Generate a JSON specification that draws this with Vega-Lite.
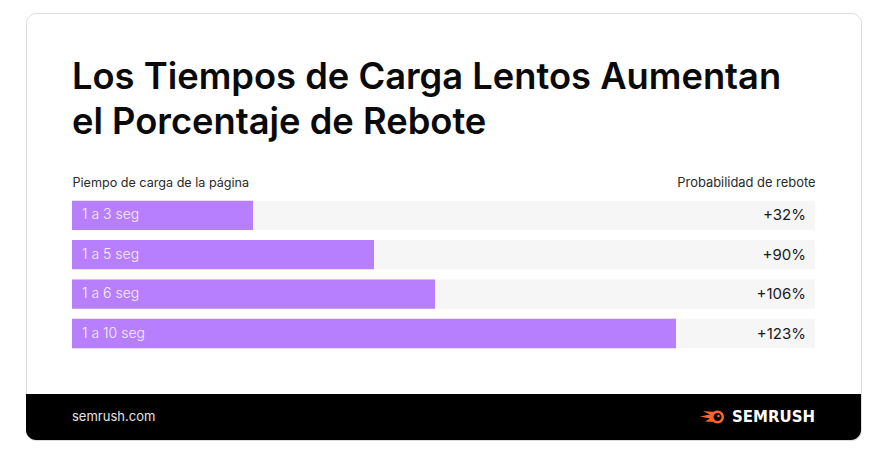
{
  "$schema": "https://vega.github.io/schema/vega-lite/v6.json",
  "background": "#ffffff",
  "padding": {"left": 26, "top": 13, "right": 9, "bottom": 32},
  "config": {"font": "Inter"},
  "width": 835,
  "height": 427,
  "view": {"fill": "#ffffff", "stroke": "#dcdce2", "strokeWidth": 1, "cornerRadius": 10},
  "title": {
    "text": ["Los Tiempos de Carga Lentos Aumentan", "el Porcentaje de Rebote"],
    "anchor": "start",
    "frame": "group",
    "orient": "top",
    "offset": -128,
    "dx": 46,
    "baseline": "top",
    "fontSize": 36.3,
    "fontWeight": 600,
    "font": "Inter",
    "color": "#0a0a0a",
    "lineHeight": 45
  },
  "layer": [
    {
      "data": {
        "values": [
          {"tiempo": "1 a 3 seg", "rebote": 32, "etiqueta": "+32%"},
          {"tiempo": "1 a 5 seg", "rebote": 90, "etiqueta": "+90%"},
          {"tiempo": "1 a 6 seg", "rebote": 106, "etiqueta": "+106%"},
          {"tiempo": "1 a 10 seg", "rebote": 123, "etiqueta": "+123%"}
        ]
      },
      "encoding": {
        "y": {
          "field": "tiempo",
          "type": "nominal",
          "sort": null,
          "scale": {"range": [182.6, 340.2], "paddingInner": 0.256, "paddingOuter": 0.128},
          "axis": {
            "title": "Piempo de carga de la página",
            "labels": false, "ticks": false, "domain": false, "grid": false,
            "offset": 0,
            "titleAngle": 0, "titleAlign": "left", "titleBaseline": "middle",
            "titleX": 46, "titleY": 169.5,
            "titleFontSize": 12.6, "titleFontWeight": 400, "titleColor": "#2a2a2a", "titleFont": "Inter"
          }
        }
      },
      "layer": [
        {
          "mark": {"type": "bar", "color": "#f6f6f6"},
          "encoding": {
            "x": {
              "datum": 0, "type": "quantitative",
              "scale": {"domain": [0, 32, 90, 106, 123, 150], "range": [46, 227, 348, 409, 650, 789], "nice": false, "zero": false},
              "axis": {
                "orient": "top", "title": "Probabilidad de rebote",
                "labels": false, "ticks": false, "domain": false, "grid": false, "offset": 0,
                "titleAlign": "right", "titleBaseline": "middle", "titleX": 789, "titleY": 169.5,
                "titleFontSize": 12.9, "titleFontWeight": 400, "titleColor": "#2a2a2a", "titleFont": "Inter"
              }
            },
            "x2": {"datum": 150}
          }
        },
        {
          "mark": {"type": "bar", "color": "#b77ffd"},
          "encoding": {
            "x": {
              "field": "rebote", "type": "quantitative",
              "scale": {"domain": [0, 32, 90, 106, 123, 150], "range": [46, 227, 348, 409, 650, 789], "nice": false, "zero": false},
              "axis": {
                "orient": "top", "title": "Probabilidad de rebote",
                "labels": false, "ticks": false, "domain": false, "grid": false, "offset": 0,
                "titleAlign": "right", "titleBaseline": "middle", "titleX": 789, "titleY": 169.5,
                "titleFontSize": 12.9, "titleFontWeight": 400, "titleColor": "#2a2a2a", "titleFont": "Inter"
              }
            },
            "x2": {"datum": 0}
          }
        },
        {
          "mark": {"type": "text", "align": "left", "baseline": "middle", "dx": 10, "fontSize": 14, "fontWeight": 300, "color": "#f7f0ff"},
          "encoding": {
            "x": {"datum": 0, "type": "quantitative"},
            "text": {"field": "tiempo"}
          }
        },
        {
          "mark": {"type": "text", "align": "right", "baseline": "middle", "dx": -9, "fontSize": 15, "fontWeight": 400, "color": "#1a1a1a"},
          "encoding": {
            "x": {"datum": 150, "type": "quantitative"},
            "text": {"field": "etiqueta"}
          }
        }
      ]
    },
    {
      "data": {
        "values": [
          {"lado": "izquierda", "texto": "semrush.com"},
          {"lado": "derecha", "texto": "SEMRUSH"}
        ]
      },
      "encoding": {
        "y": {"datum": "pie", "type": "nominal", "scale": {"type": "band", "domain": ["pie"], "range": [381, 427], "paddingInner": 0, "paddingOuter": 0}, "axis": null}
      },
      "layer": [
        {
          "transform": [{"filter": "datum.lado === 'izquierda'"}],
          "mark": {"type": "bar", "color": "#000000", "cornerRadiusBottomLeft": 10, "cornerRadiusBottomRight": 10}
        },
        {
          "transform": [{"filter": "datum.lado === 'izquierda'"}],
          "mark": {"type": "text", "align": "left", "baseline": "middle", "fontSize": 13, "color": "#e4e4e4"},
          "encoding": {"x": {"datum": 0, "type": "quantitative"}, "text": {"field": "texto"}}
        },
        {
          "transform": [{"filter": "datum.lado === 'derecha'"}],
          "mark": {"type": "text", "align": "right", "baseline": "middle", "fontSize": 15, "fontWeight": "bold", "font": "DejaVu Sans", "color": "#ffffff"},
          "encoding": {"x": {"datum": 150, "type": "quantitative"}, "text": {"field": "texto"}}
        },
        {
          "transform": [{"filter": "datum.lado === 'derecha'"}],
          "mark": {"type": "point", "filled": true, "opacity": 1, "size": 4, "strokeWidth": 0, "color": "#ff642d",
            "shape": "M -104 0 A 6.5 6.5 0 1 1 -91 0 A 6.5 6.5 0 1 1 -104 0 Z M -99 5 L -110 4.5 L -105 1.5 L -115 -0.5 L -105 -2.5 L -112 -6 L -100 -5 Z"},
          "encoding": {"x": {"datum": 150, "type": "quantitative"}}
        },
        {
          "transform": [{"filter": "datum.lado === 'derecha'"}],
          "mark": {"type": "point", "filled": true, "opacity": 1, "size": 4, "strokeWidth": 0, "color": "#000000",
            "shape": "M -101.5 0 A 4 4 0 1 1 -93.5 0 A 4 4 0 1 1 -101.5 0 Z"},
          "encoding": {"x": {"datum": 150, "type": "quantitative"}}
        },
        {
          "transform": [{"filter": "datum.lado === 'derecha'"}],
          "mark": {"type": "point", "filled": true, "opacity": 1, "size": 4, "strokeWidth": 0, "color": "#ff642d",
            "shape": "M -97.8 -1 A 1.3 1.3 0 1 1 -95.2 -1 A 1.3 1.3 0 1 1 -97.8 -1 Z"},
          "encoding": {"x": {"datum": 150, "type": "quantitative"}}
        }
      ]
    }
  ],
  "resolve": {"scale": {"y": "independent"}, "axis": {"y": "independent"}}
}
